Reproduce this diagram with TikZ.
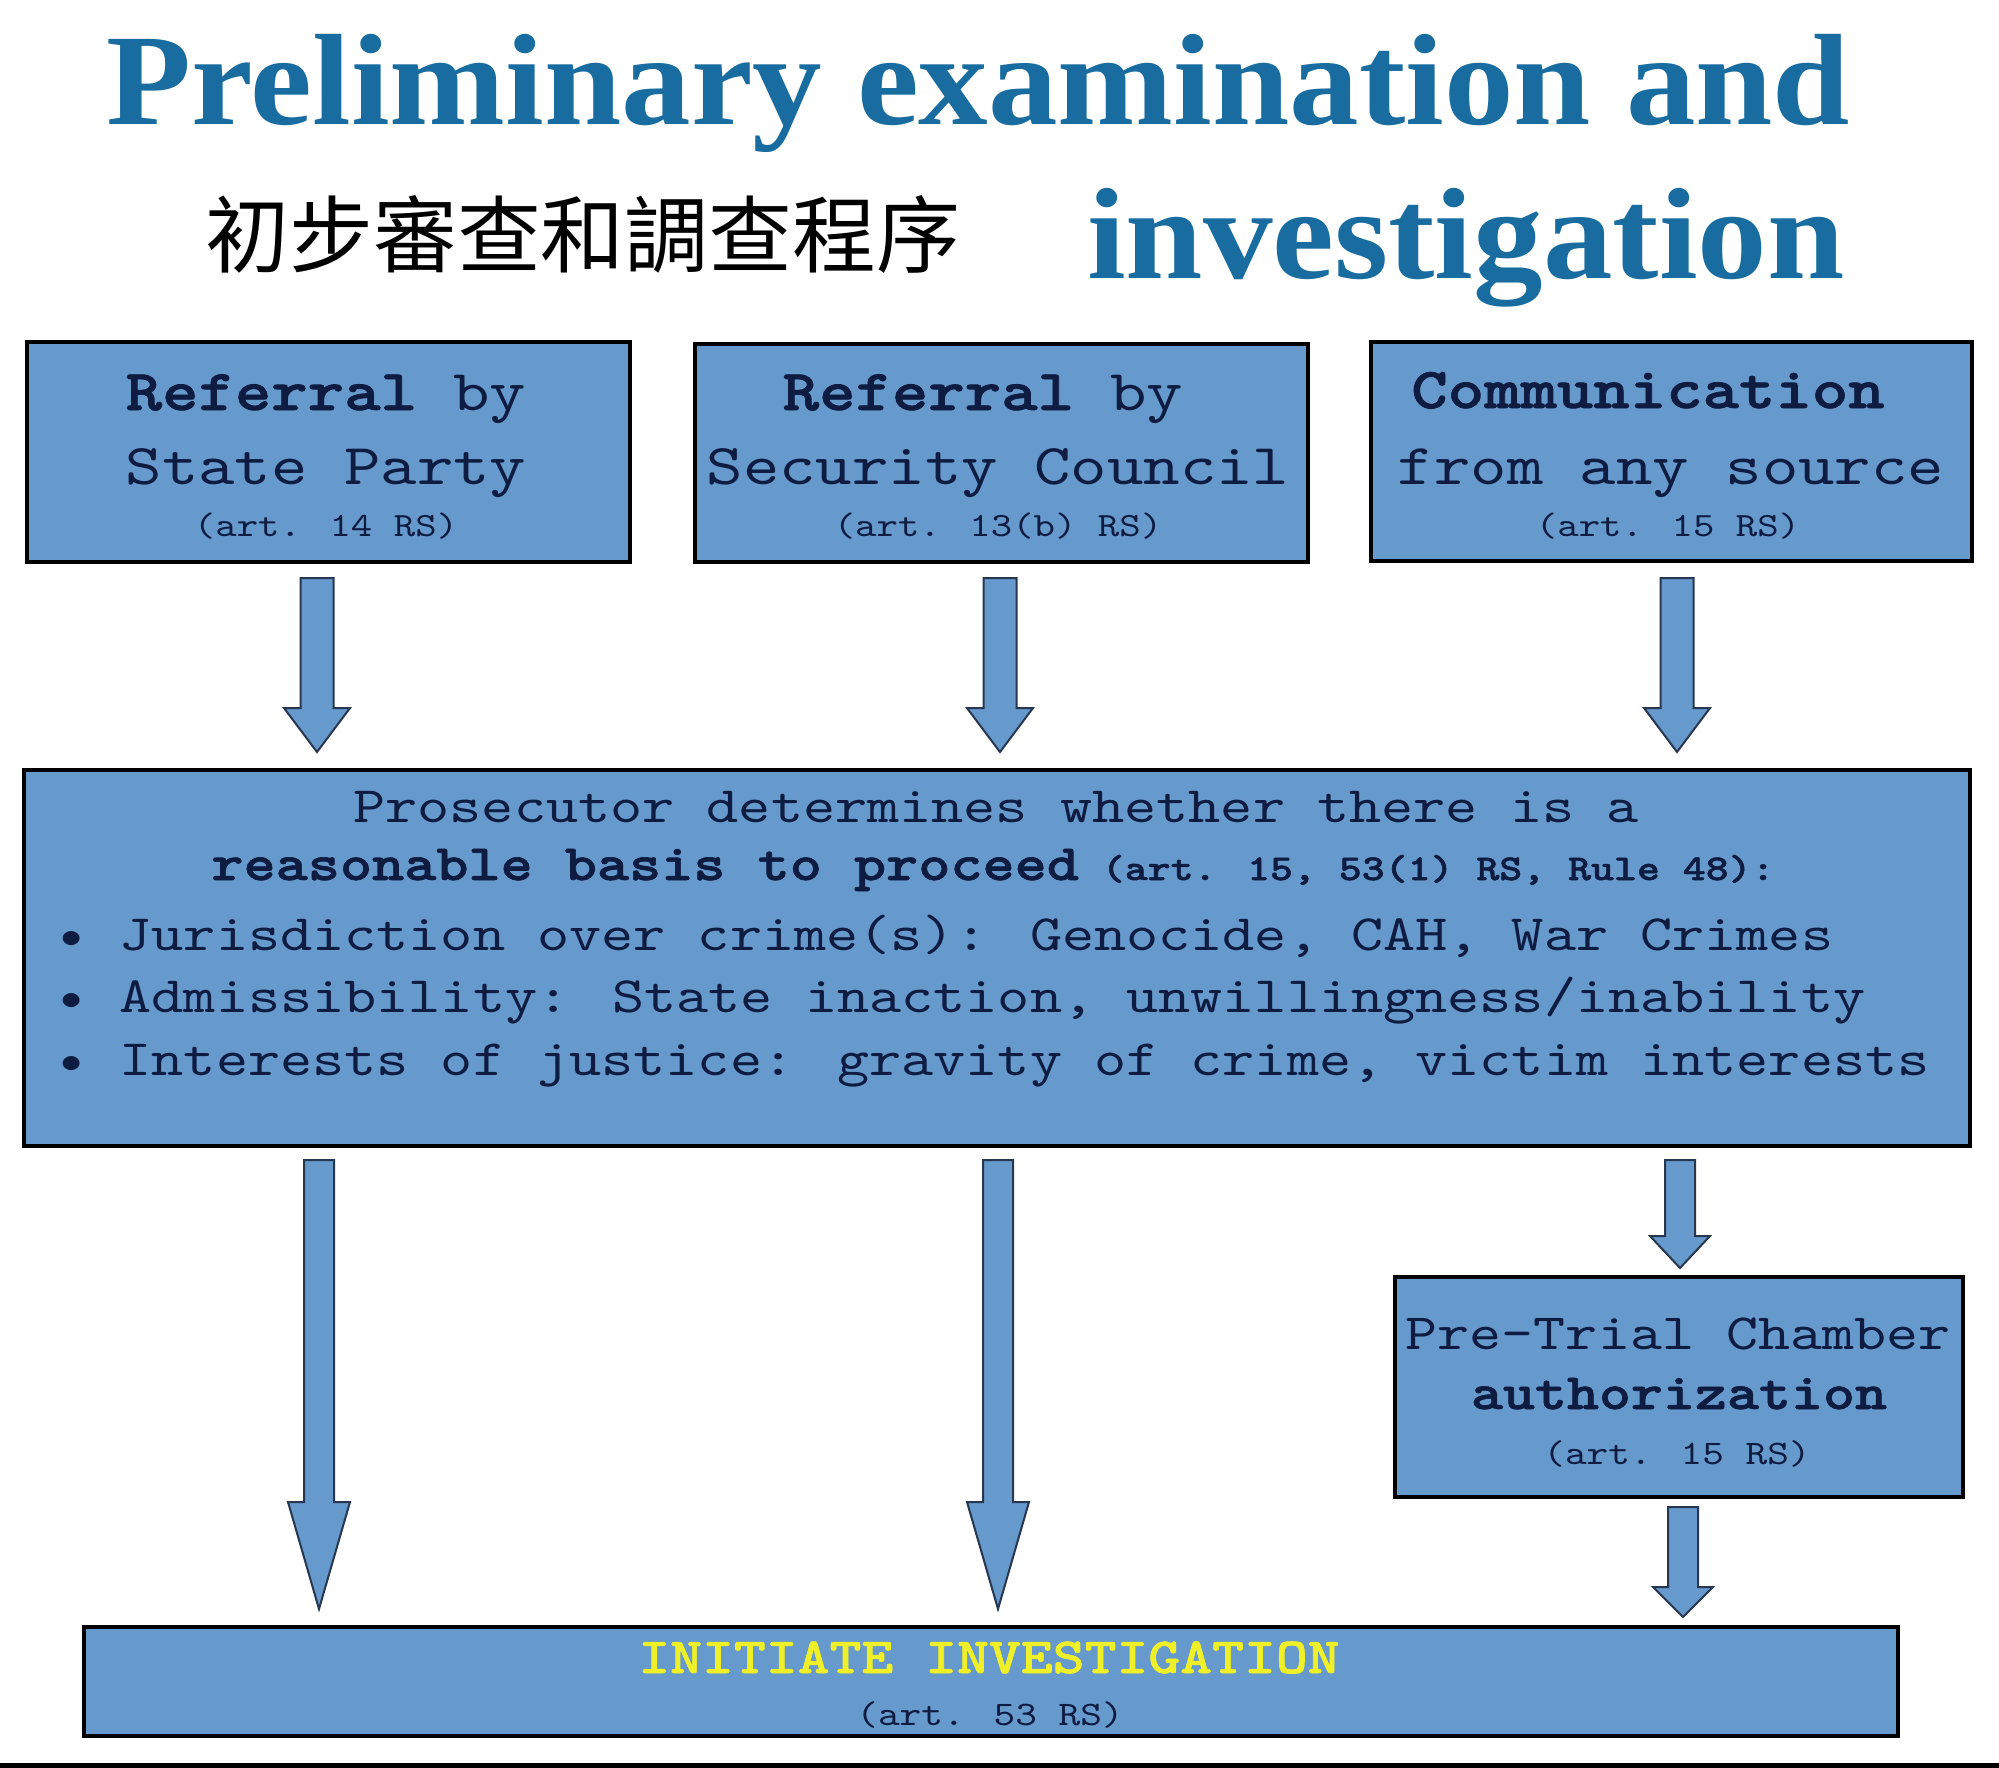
\documentclass[tikz,border=0pt]{standalone}
\usepackage{fontspec}
\setmainfont{Liberation Serif}
\newfontfamily\titlef[FakeStretch=1.07]{Liberation Serif}
\newfontfamily\monof[FakeStretch=1.2,BoldFont=lmmonolt10-bold.otf,BoldFeatures={FakeBold=1.3}]{lmmono10-regular.otf}
\newfontfamily\cjkf{Noto Sans CJK TC}
\usetikzlibrary{calc}
\definecolor{titleblue}{RGB}{24,108,160}
\definecolor{boxfill}{RGB}{102,153,204}
\definecolor{inkblue}{RGB}{14,28,66}
\definecolor{yell}{RGB}{240,240,40}
\definecolor{arrline}{RGB}{40,55,80}
\newcommand\fs[1]{\fontsize{#1}{#1}\selectfont}
\newcommand\blockarrow[5]{%
  \filldraw[arrowst] let \p1=(#1), \p2=(#2) in
  (\x1-#4,\y1) -- (\x1+#4,\y1) -- (\x1+#4,\y2+#3) -- (\x1+#5,\y2+#3) --
  (\x2,\y2) -- (\x1-#5,\y2+#3) -- (\x1-#4,\y2+#3) -- cycle;}
\tikzset{
  box/.style={draw=black, line width=2pt, fill=boxfill, inner sep=0pt, outer sep=0pt},
  txt/.style={anchor=base, inner sep=0pt, text=inkblue},
  arrowst/.style={draw=arrline, line width=1pt, fill=boxfill, line join=miter},
}
\begin{document}
\begin{tikzpicture}[x=0.5pt,y=-0.5pt]
\useasboundingbox (0,0) rectangle (1999,1768);
\fill[white] (0,0) rectangle (1999,1768);
% title
\node[anchor=base west, inner sep=0pt, font=\titlef\fs{65}\bfseries, text=titleblue] (t1) at (106,124) {Preliminary examination and};
\node[anchor=base east, inner sep=0pt, font=\titlef\fs{65}\bfseries, text=titleblue] (t2) at (1845,278) {investigation};
\node[anchor=base, inner sep=0pt, font=\cjkf\fs{42}] (t3) at (583,266) {初步審查和調查程序};
% boxes
\node[box, minimum width=301.5pt, minimum height=110pt] (b1) at (328.5,452) {};
\node[box, minimum width=306.5pt, minimum height=109pt] (b2) at (1001.5,453) {};
\node[box, minimum width=300.5pt, minimum height=109.5pt] (b3) at (1671.5,451.5) {};
\node[box, minimum width=973pt, minimum height=188pt] (big) at (997,958) {};
\node[box, minimum width=284pt, minimum height=110pt] (ptc) at (1679,1387) {};
\node[box, minimum width=907pt, minimum height=54.5pt] (fin) at (991,1681.5) {};
% box 1
\node[txt, font=\monof\fs{28.9}] (b1a) at (326,410) {\textbf{Referral} by};
\node[txt, font=\monof\fs{28.9}] (b1b) at (326,484) {State Party};
\node[txt, font=\monof\fs{17}] (b1c) at (326,536) {(art. 14 RS)};
% box 2
\node[txt, font=\monof\fs{28.9}] (b2a) at (983,410) {\textbf{Referral} by};
\node[txt, font=\monof\fs{28.9}] (b2b) at (998,484) {Security Council};
\node[txt, font=\monof\fs{17}] (b2c) at (998,536) {(art. 13(b) RS)};
% box 3
\node[txt, font=\monof\fs{28.9}\bfseries] (b3a) at (1648,408) {Communication};
\node[txt, font=\monof\fs{28.9}] (b3b) at (1671,484) {from any source};
\node[txt, font=\monof\fs{17}] (b3c) at (1668,536) {(art. 15 RS)};
% big box
\node[txt, font=\monof\fs{25.5}] (g1) at (996,822) {Prosecutor determines whether there is a};
\node[txt, font=\monof\bfseries] (g2) at (993,880) {{\fs{25.5}reasonable basis to proceed}{\fs{18.2} (art. 15, 53(1) RS, Rule 48):}};
\node[txt, anchor=base west, font=\monof\fs{25.5}] (g3) at (55,950) {• Jurisdiction over crime(s): Genocide, CAH, War Crimes};
\node[txt, anchor=base west, font=\monof\fs{25.5}] (g4) at (55,1012) {• Admissibility: State inaction, unwillingness/inability};
\node[txt, anchor=base west, font=\monof\fs{25.5}] (g5) at (55,1075) {• Interests of justice: gravity of crime, victim interests};
% pre-trial chamber
\node[txt, font=\monof\fs{25.4}] (p1) at (1678,1349) {Pre-Trial Chamber};
\node[txt, font=\monof\fs{25.4}\bfseries] (p2) at (1679,1409) {authorization};
\node[txt, font=\monof\fs{17.2}] (p3) at (1677,1464) {(art. 15 RS)};
% final
\node[txt, font=\monof\fs{25.3}\bfseries, text=yell] (f1) at (989,1673) {INITIATE INVESTIGATION};
\node[txt, font=\monof\fs{17.2}] (f2) at (990,1725) {(art. 53 RS)};
% arrow coordinates
\coordinate (a1s) at (317,578);  \coordinate (a1e) at (317,752);
\coordinate (a2s) at (1000,578); \coordinate (a2e) at (1000,752);
\coordinate (a3s) at (1677,578); \coordinate (a3e) at (1677,752);
\coordinate (l1s) at (319,1160); \coordinate (l1e) at (319,1609);
\coordinate (l2s) at (998,1160); \coordinate (l2e) at (998,1609);
\coordinate (r1s) at (1680,1160); \coordinate (r1e) at (1680,1268);
\coordinate (r2s) at (1683,1507); \coordinate (r2e) at (1683,1617);
\blockarrow{a1s}{a1e}{22pt}{8.25pt}{16.5pt}
\blockarrow{a2s}{a2e}{22pt}{8.25pt}{16.5pt}
\blockarrow{a3s}{a3e}{22pt}{8.25pt}{16.5pt}
\blockarrow{l1s}{l1e}{53.5pt}{7.5pt}{15.5pt}
\blockarrow{l2s}{l2e}{53.5pt}{7.5pt}{15.5pt}
\blockarrow{r1s}{r1e}{16pt}{7.5pt}{15pt}
\blockarrow{r2s}{r2e}{15pt}{7.5pt}{15pt}
% bottom rule
\fill[black] (0,1763) rectangle (1999,1768);
\end{tikzpicture}
\end{document}
